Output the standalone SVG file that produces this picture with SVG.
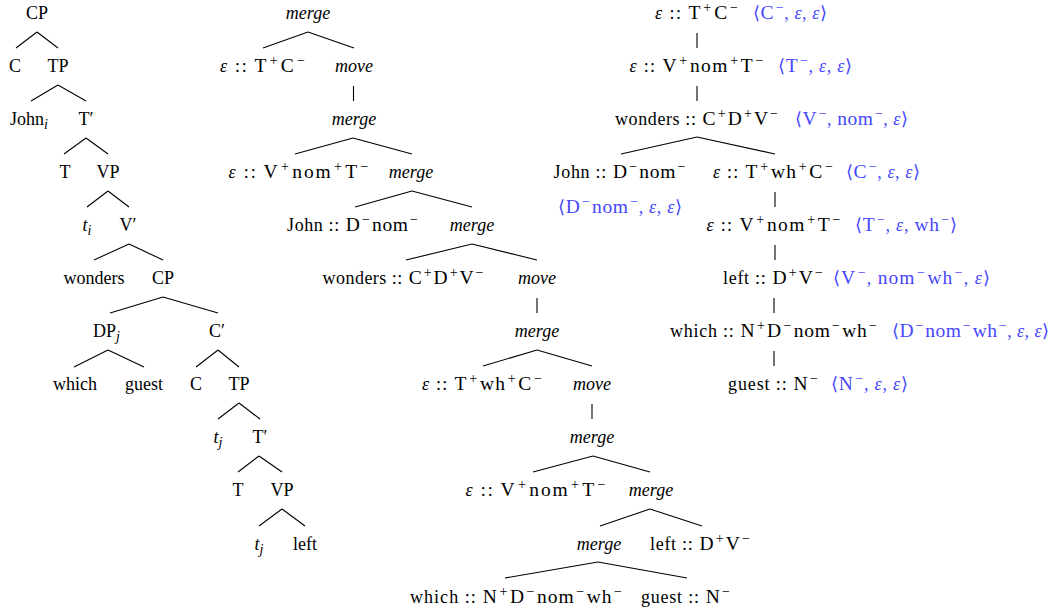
<svg xmlns="http://www.w3.org/2000/svg" width="1057" height="612" viewBox="0 0 1057 612">
<style>
text{font-family:"Liberation Serif","DejaVu Serif",serif;font-size:18px;fill:#000}
.m{text-anchor:middle}
.i{font-style:italic}
.s{font-size:14px}
.r{font-size:19.5px}
.b{fill:#4646ff}
#connectors line{stroke:#000;stroke-width:1.1;fill:none}
</style>
<rect width="1057" height="612" fill="#fff"/>
<g id="connectors">
<line x1="37" y1="32" x2="16" y2="48"/><line x1="37" y1="32" x2="58" y2="48"/>
<line x1="58" y1="85" x2="31" y2="101"/><line x1="58" y1="85" x2="86" y2="101"/>
<line x1="86" y1="138" x2="64" y2="154"/><line x1="86" y1="138" x2="108" y2="154"/>
<line x1="108" y1="191" x2="87" y2="207"/><line x1="108" y1="191" x2="129" y2="207"/>
<line x1="129" y1="244" x2="94" y2="260"/><line x1="129" y1="244" x2="163" y2="260"/>
<line x1="163" y1="297" x2="110" y2="313"/><line x1="163" y1="297" x2="218" y2="313"/>
<line x1="108" y1="350" x2="74" y2="367"/><line x1="108" y1="350" x2="144" y2="367"/>
<line x1="218" y1="350" x2="196" y2="367"/><line x1="218" y1="350" x2="239" y2="367"/>
<line x1="239" y1="403" x2="218" y2="419"/><line x1="239" y1="403" x2="260" y2="419"/>
<line x1="259" y1="456" x2="238" y2="472"/><line x1="259" y1="456" x2="282" y2="472"/>
<line x1="282" y1="509" x2="259" y2="526"/><line x1="282" y1="509" x2="305" y2="526"/>
<line x1="308" y1="32" x2="263" y2="48"/><line x1="308" y1="32" x2="354" y2="48"/>
<line x1="353.5" y1="86" x2="353.5" y2="101"/>
<line x1="353" y1="138" x2="295" y2="154"/><line x1="353" y1="138" x2="412" y2="154"/>
<line x1="412" y1="191" x2="355" y2="207"/><line x1="412" y1="191" x2="472" y2="207"/>
<line x1="472" y1="244" x2="406" y2="260"/><line x1="472" y1="244" x2="537" y2="260"/>
<line x1="537" y1="298" x2="537" y2="313"/>
<line x1="537" y1="350" x2="483" y2="366"/><line x1="537" y1="350" x2="592" y2="366"/>
<line x1="592" y1="404" x2="592" y2="419"/>
<line x1="593" y1="456" x2="533" y2="472"/><line x1="593" y1="456" x2="650" y2="472"/>
<line x1="650" y1="509" x2="600" y2="526"/><line x1="650" y1="509" x2="702" y2="526"/>
<line x1="598" y1="562" x2="505" y2="578"/><line x1="598" y1="562" x2="687" y2="578"/>
<line x1="697" y1="33" x2="697" y2="48"/>
<line x1="697" y1="86" x2="697" y2="101"/>
<line x1="697" y1="137" x2="621" y2="154"/><line x1="697" y1="137" x2="775" y2="154"/>
<line x1="775" y1="192" x2="775" y2="207"/>
<line x1="775" y1="245" x2="775" y2="260"/>
<line x1="774" y1="298" x2="774" y2="313"/>
<line x1="774" y1="351" x2="774" y2="366"/>
</g>

<!-- LEFT TREE -->
<g id="L_CP1"><text class="m" x="37" y="18.5">CP</text></g>
<g id="L_C1"><text class="m" x="15" y="71.6">C</text></g>
<g id="L_TP1"><text class="m" x="58" y="71.6">TP</text></g>
<g id="L_John"><text x="10" y="124.7">John<tspan class="s i" dy="4">i</tspan></text></g>
<g id="L_Tbar1"><text class="m" x="86" y="124.7">T′</text></g>
<g id="L_T1"><text class="m" x="65" y="177.8">T</text></g>
<g id="L_VP1"><text class="m" x="108" y="177.8">VP</text></g>
<g id="L_ti"><text class="m" x="87" y="230.9"><tspan class="i">t</tspan><tspan class="s i" dy="4">i</tspan></text></g>
<g id="L_Vbar"><text class="m" x="128" y="230.9">V′</text></g>
<g id="L_wonders"><text class="m" x="94" y="284">wonders</text></g>
<g id="L_CP2"><text class="m" x="163" y="284">CP</text></g>
<g id="L_DPj"><text x="93" y="337.1">DP<tspan class="s i" dy="4">j</tspan></text></g>
<g id="L_Cbar"><text class="m" x="217" y="337.1">C′</text></g>
<g id="L_which"><text class="m" x="75" y="390.2">which</text></g>
<g id="L_guest"><text class="m" x="144" y="390.2">guest</text></g>
<g id="L_C2"><text class="m" x="196" y="390.2">C</text></g>
<g id="L_TP2"><text class="m" x="239" y="390.2">TP</text></g>
<g id="L_tj1"><text class="m" x="218" y="443.3"><tspan class="i">t</tspan><tspan class="s i" dy="4">j</tspan></text></g>
<g id="L_Tbar2"><text class="m" x="260" y="443.3">T′</text></g>
<g id="L_T2"><text class="m" x="238" y="496.4">T</text></g>
<g id="L_VP2"><text class="m" x="282" y="496.4">VP</text></g>
<g id="L_tj2"><text class="m" x="259" y="549.5"><tspan class="i">t</tspan><tspan class="s i" dy="4">j</tspan></text></g>
<g id="L_left"><text class="m" x="305" y="549.5">left</text></g>

<!-- MIDDLE TREE -->
<g id="M_merge1"><text class="m i" x="308" y="18.5">merge</text></g>
<g id="M_eTC"><text class="m" x="262.5" y="71.6" textLength="85"><tspan class="i">ε</tspan> ::<tspan class="r" dx="6">T</tspan><tspan class="s" dx="1.5" dy="-7">+</tspan><tspan class="r" dx="1.5" dy="7">C</tspan><tspan class="s" dx="1.5" dy="-7">−</tspan></text></g>
<g id="M_move1"><text class="m i" x="354" y="71.6">move</text></g>
<g id="M_merge2"><text class="m i" x="354" y="124.7">merge</text></g>
<g id="M_eVnomT1"><text class="m" x="298.5" y="177.8" textLength="140"><tspan class="i">ε</tspan> ::<tspan class="r" dx="6">V</tspan><tspan class="s" dx="1.5" dy="-7">+</tspan><tspan class="r" dx="1.5" dy="7">nom</tspan><tspan class="s" dx="1.5" dy="-7">+</tspan><tspan class="r" dx="1.5" dy="7">T</tspan><tspan class="s" dx="1.5" dy="-7">−</tspan></text></g>
<g id="M_merge3"><text class="m i" x="411" y="177.8">merge</text></g>
<g id="M_John"><text class="m" x="352.5" y="230.9" textLength="131"><tspan>John ::</tspan><tspan class="r" dx="6">D</tspan><tspan class="s" dx="1.5" dy="-7">−</tspan><tspan class="r" dx="1.5" dy="7">nom</tspan><tspan class="s" dx="1.5" dy="-7">−</tspan></text></g>
<g id="M_merge4"><text class="m i" x="472" y="230.9">merge</text></g>
<g id="M_wonders"><text class="m" x="403" y="284" textLength="161"><tspan>wonders ::</tspan><tspan class="r" dx="6">C</tspan><tspan class="s" dx="1.5" dy="-7">+</tspan><tspan class="r" dx="1.5" dy="7">D</tspan><tspan class="s" dx="1.5" dy="-7">+</tspan><tspan class="r" dx="1.5" dy="7">V</tspan><tspan class="s" dx="1.5" dy="-7">−</tspan></text></g>
<g id="M_move2"><text class="m i" x="537" y="284">move</text></g>
<g id="M_merge5"><text class="m i" x="537" y="337.1">merge</text></g>
<g id="M_eTwhC"><text class="m" x="482" y="390.2" textLength="120"><tspan class="i">ε</tspan> ::<tspan class="r" dx="6">T</tspan><tspan class="s" dx="1.5" dy="-7">+</tspan><tspan class="r" dx="1.5" dy="7">wh</tspan><tspan class="s" dx="1.5" dy="-7">+</tspan><tspan class="r" dx="1.5" dy="7">C</tspan><tspan class="s" dx="1.5" dy="-7">−</tspan></text></g>
<g id="M_move3"><text class="m i" x="592" y="390.2">move</text></g>
<g id="M_merge6"><text class="m i" x="592" y="443.3">merge</text></g>
<g id="M_eVnomT2"><text class="m" x="535.5" y="496.4" textLength="140"><tspan class="i">ε</tspan> ::<tspan class="r" dx="6">V</tspan><tspan class="s" dx="1.5" dy="-7">+</tspan><tspan class="r" dx="1.5" dy="7">nom</tspan><tspan class="s" dx="1.5" dy="-7">+</tspan><tspan class="r" dx="1.5" dy="7">T</tspan><tspan class="s" dx="1.5" dy="-7">−</tspan></text></g>
<g id="M_merge7"><text class="m i" x="651" y="496.4">merge</text></g>
<g id="M_merge8"><text class="m i" x="599" y="549.5">merge</text></g>
<g id="M_left"><text class="m" x="700" y="549.5" textLength="100"><tspan>left ::</tspan><tspan class="r" dx="6">D</tspan><tspan class="s" dx="1.5" dy="-7">+</tspan><tspan class="r" dx="1.5" dy="7">V</tspan><tspan class="s" dx="1.5" dy="-7">−</tspan></text></g>
<g id="M_which"><text class="m" x="516" y="602.6" textLength="212"><tspan>which ::</tspan><tspan class="r" dx="6">N</tspan><tspan class="s" dx="1.5" dy="-7">+</tspan><tspan class="r" dx="1.5" dy="7">D</tspan><tspan class="s" dx="1.5" dy="-7">−</tspan><tspan class="r" dx="1.5" dy="7">nom</tspan><tspan class="s" dx="1.5" dy="-7">−</tspan><tspan class="r" dx="1.5" dy="7">wh</tspan><tspan class="s" dx="1.5" dy="-7">−</tspan></text></g>
<g id="M_guest"><text class="m" x="685.5" y="602.6" textLength="89"><tspan>guest ::</tspan><tspan class="r" dx="6">N</tspan><tspan class="s" dx="1.5" dy="-7">−</tspan></text></g>

<!-- RIGHT TREE -->
<g id="R_eTC">
<text class="m" x="696.5" y="18.5" textLength="83"><tspan class="i">ε</tspan> ::<tspan class="r" dx="6">T</tspan><tspan class="s" dx="1.5" dy="-7">+</tspan><tspan class="r" dx="1.5" dy="7">C</tspan><tspan class="s" dx="1.5" dy="-7">−</tspan></text>
<text class="b" x="753" y="18.5" textLength="74">⟨<tspan class="r">C</tspan><tspan class="s" dx="1.5" dy="-7">−</tspan><tspan dy="7">, </tspan><tspan class="i">ε</tspan>, <tspan class="i">ε</tspan>⟩</text>
</g>
<g id="R_eVnomT1">
<text class="m" x="696.5" y="71.6" textLength="134"><tspan class="i">ε</tspan> ::<tspan class="r" dx="6">V</tspan><tspan class="s" dx="1.5" dy="-7">+</tspan><tspan class="r" dx="1.5" dy="7">nom</tspan><tspan class="s" dx="1.5" dy="-7">+</tspan><tspan class="r" dx="1.5" dy="7">T</tspan><tspan class="s" dx="1.5" dy="-7">−</tspan></text>
<text class="b" x="778" y="71.6" textLength="74">⟨<tspan class="r">T</tspan><tspan class="s" dx="1.5" dy="-7">−</tspan><tspan dy="7">, </tspan><tspan class="i">ε</tspan>, <tspan class="i">ε</tspan>⟩</text>
</g>
<g id="R_wonders">
<text class="m" x="696.5" y="124.7" textLength="163"><tspan>wonders ::</tspan><tspan class="r" dx="6">C</tspan><tspan class="s" dx="1.5" dy="-7">+</tspan><tspan class="r" dx="1.5" dy="7">D</tspan><tspan class="s" dx="1.5" dy="-7">+</tspan><tspan class="r" dx="1.5" dy="7">V</tspan><tspan class="s" dx="1.5" dy="-7">−</tspan></text>
<text class="b" x="795" y="124.7" textLength="113">⟨<tspan class="r">V</tspan><tspan class="s" dx="1.5" dy="-7">−</tspan><tspan dy="7">, </tspan><tspan class="r">nom</tspan><tspan class="s" dx="1.5" dy="-7">−</tspan><tspan dy="7">, </tspan><tspan class="i">ε</tspan>⟩</text>
</g>
<g id="R_John">
<text class="m" x="619.5" y="177.8" textLength="132"><tspan>John ::</tspan><tspan class="r" dx="6">D</tspan><tspan class="s" dx="1.5" dy="-7">−</tspan><tspan class="r" dx="1.5" dy="7">nom</tspan><tspan class="s" dx="1.5" dy="-7">−</tspan></text>
<text class="b" x="558" y="212.5" textLength="124">⟨<tspan class="r">D</tspan><tspan class="s" dx="1.5" dy="-7">−</tspan><tspan class="r" dx="1.5" dy="7">nom</tspan><tspan class="s" dx="1.5" dy="-7">−</tspan><tspan dy="7">, </tspan><tspan class="i">ε</tspan>, <tspan class="i">ε</tspan>⟩</text>
</g>
<g id="R_eTwhC">
<text class="m" x="773" y="177.8" textLength="120"><tspan class="i">ε</tspan> ::<tspan class="r" dx="6">T</tspan><tspan class="s" dx="1.5" dy="-7">+</tspan><tspan class="r" dx="1.5" dy="7">wh</tspan><tspan class="s" dx="1.5" dy="-7">+</tspan><tspan class="r" dx="1.5" dy="7">C</tspan><tspan class="s" dx="1.5" dy="-7">−</tspan></text>
<text class="b" x="846" y="177.8" textLength="74">⟨<tspan class="r">C</tspan><tspan class="s" dx="1.5" dy="-7">−</tspan><tspan dy="7">, </tspan><tspan class="i">ε</tspan>, <tspan class="i">ε</tspan>⟩</text>
</g>
<g id="R_eVnomT2">
<text class="m" x="773.5" y="230.9" textLength="134"><tspan class="i">ε</tspan> ::<tspan class="r" dx="6">V</tspan><tspan class="s" dx="1.5" dy="-7">+</tspan><tspan class="r" dx="1.5" dy="7">nom</tspan><tspan class="s" dx="1.5" dy="-7">+</tspan><tspan class="r" dx="1.5" dy="7">T</tspan><tspan class="s" dx="1.5" dy="-7">−</tspan></text>
<text class="b" x="855" y="230.9" textLength="102">⟨<tspan class="r">T</tspan><tspan class="s" dx="1.5" dy="-7">−</tspan><tspan dy="7">, </tspan><tspan class="i">ε</tspan>, <tspan class="r">wh</tspan><tspan class="s" dx="1.5" dy="-7">−</tspan><tspan dy="7">⟩</tspan></text>
</g>
<g id="R_left">
<text class="m" x="773" y="284" textLength="100"><tspan>left ::</tspan><tspan class="r" dx="6">D</tspan><tspan class="s" dx="1.5" dy="-7">+</tspan><tspan class="r" dx="1.5" dy="7">V</tspan><tspan class="s" dx="1.5" dy="-7">−</tspan></text>
<text class="b" x="833" y="284" textLength="157">⟨<tspan class="r">V</tspan><tspan class="s" dx="1.5" dy="-7">−</tspan><tspan dy="7">, </tspan><tspan class="r">nom</tspan><tspan class="s" dx="1.5" dy="-7">−</tspan><tspan class="r" dx="1.5" dy="7">wh</tspan><tspan class="s" dx="1.5" dy="-7">−</tspan><tspan dy="7">, </tspan><tspan class="i">ε</tspan>⟩</text>
</g>
<g id="R_which">
<text class="m" x="773.5" y="337.1" textLength="207"><tspan>which ::</tspan><tspan class="r" dx="6">N</tspan><tspan class="s" dx="1.5" dy="-7">+</tspan><tspan class="r" dx="1.5" dy="7">D</tspan><tspan class="s" dx="1.5" dy="-7">−</tspan><tspan class="r" dx="1.5" dy="7">nom</tspan><tspan class="s" dx="1.5" dy="-7">−</tspan><tspan class="r" dx="1.5" dy="7">wh</tspan><tspan class="s" dx="1.5" dy="-7">−</tspan></text>
<text class="b" x="892" y="337.1" textLength="157">⟨<tspan class="r">D</tspan><tspan class="s" dx="1.5" dy="-7">−</tspan><tspan class="r" dx="1.5" dy="7">nom</tspan><tspan class="s" dx="1.5" dy="-7">−</tspan><tspan class="r" dx="1.5" dy="7">wh</tspan><tspan class="s" dx="1.5" dy="-7">−</tspan><tspan dy="7">, </tspan><tspan class="i">ε</tspan>, <tspan class="i">ε</tspan>⟩</text>
</g>
<g id="R_guest">
<text class="m" x="773" y="390.2" textLength="90"><tspan>guest ::</tspan><tspan class="r" dx="6">N</tspan><tspan class="s" dx="1.5" dy="-7">−</tspan></text>
<text class="b" x="831" y="390.2" textLength="77">⟨<tspan class="r">N</tspan><tspan class="s" dx="1.5" dy="-7">−</tspan><tspan dy="7">, </tspan><tspan class="i">ε</tspan>, <tspan class="i">ε</tspan>⟩</text>
</g>
</svg>
